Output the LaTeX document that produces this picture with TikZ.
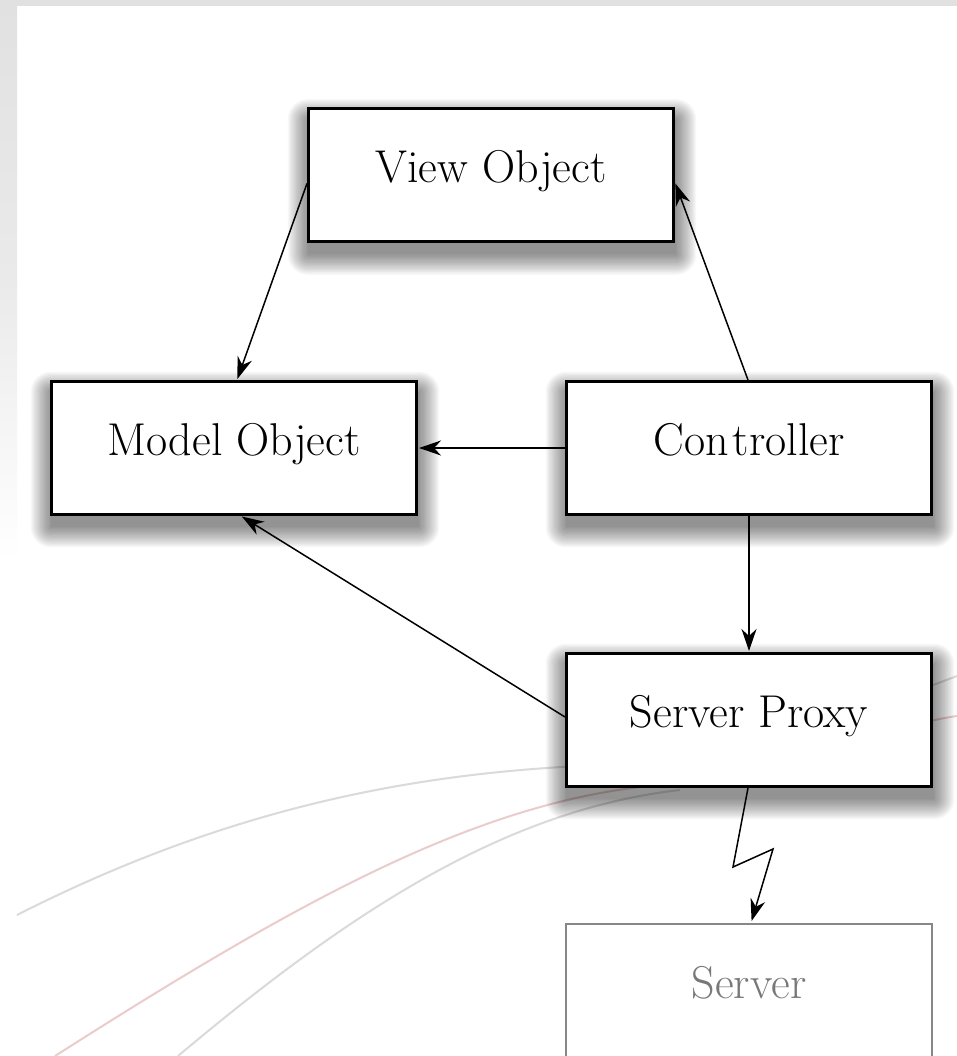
\documentclass[tikz,border=0pt]{standalone}
\usetikzlibrary{arrows.meta,calc}
\pgfdeclarelayer{back}
\pgfdeclarelayer{shade}
\pgfsetlayers{back,shade,main}
\definecolor{bandgray}{RGB}{225,225,225}
\definecolor{swirlgray}{RGB}{218,218,218}
\definecolor{swirlpink}{RGB}{234,204,204}
\definecolor{serverline}{RGB}{135,135,135}
\definecolor{servertext}{RGB}{120,120,120}
\tikzset{
  objbox/.style={draw=black, line width=3pt, fill=white, inner sep=0pt,
    minimum width=365pt, minimum height=133pt,
    text height=25pt, text depth=10pt, font=\fontsize{46}{52}\selectfont},
  farbox/.style={draw=serverline, line width=2pt, fill=white, inner sep=0pt,
    minimum width=366pt, minimum height=134pt, text=servertext,
    text height=25pt, text depth=11pt, font=\fontsize{46}{52}\selectfont},
  link/.style={line width=1.5pt, -{Stealth[length=22pt,width=15pt,inset=7pt]}},
  swirl/.style={line width=2pt, swirlgray},
  shadowlayer/.style={fill=black, fill opacity=0.028},
}
% soft drop shadow under a box, built from stacked translucent rectangles
\newcommand\dropshade[1]{%
  \begin{pgfonlayer}{shade}
    \foreach \r in {0,1.2,...,20.4} {
      \fill[shadowlayer, rounded corners=\r pt]
        ([xshift=-\r pt+1pt, yshift=\r pt-12pt]#1.north west)
        rectangle ([xshift=\r pt+1pt, yshift=-\r pt-11pt]#1.south east);
    }
  \end{pgfonlayer}}
\begin{document}
\begin{tikzpicture}[x=1pt,y=-1pt]
  \useasboundingbox (0,0) rectangle (957,1056);
  \begin{pgfonlayer}{back}
    % page and frame
    \fill[white] (0,0) rectangle (957,1056);
    \fill[bandgray] (0,0) rectangle (957,6);
    \shade[top color=bandgray, bottom color=white, middle color=bandgray!70]
      (0,0) rectangle (17,560);
    % faint background swirls
    \draw[swirl] (17,915) .. controls (220,812) and (400,775) .. (580,766)
      .. controls (760,752) and (880,705) .. (957,676);
    \draw[swirl, swirlpink] (55,1056) .. controls (300,900) and (480,800) .. (660,785)
      .. controls (800,770) and (890,725) .. (957,716);
    \draw[swirl] (178,1056) .. controls (340,920) and (500,810) .. (680,790);
  \end{pgfonlayer}

  % objects
  \node[objbox] (View)  at (491,175.5) {View Object};
  \node[objbox] (Model) at (234,448)   {Model Object};
  \node[objbox] (Ctrl)  at (749,448)   {Con\kern4pt troller};
  \node[objbox] (Proxy) at (749,720)   {Server Proxy};
  \node[farbox] (Server) at (749,991)  {Server};

  \dropshade{View}
  \dropshade{Model}
  \dropshade{Ctrl}
  \dropshade{Proxy}

  % connectors
  \draw[link, shorten >=1pt] ([yshift=-8pt]View.west) -- ([xshift=3pt]Model.north);
  \draw[link, shorten >=1pt] ([xshift=-1pt]Ctrl.north) -- ([yshift=-7pt]View.east);
  \draw[link, shorten >=1pt] (Ctrl.west) -- (Model.east);
  \draw[link, shorten >=1pt] ([yshift=3pt]Proxy.west) -- ([xshift=7pt]Model.south);
  \draw[link, shorten >=1pt] (Ctrl.south) -- (Proxy.north);

  % lightning link to the remote server
  \coordinate (z1) at (733,867);
  \coordinate (z2) at (773,849);
  \draw[link, line join=miter, shorten >=2pt] ([xshift=-1pt]Proxy.south) -- (z1) -- (z2) -- ([xshift=2pt]Server.north);
\end{tikzpicture}
\end{document}
